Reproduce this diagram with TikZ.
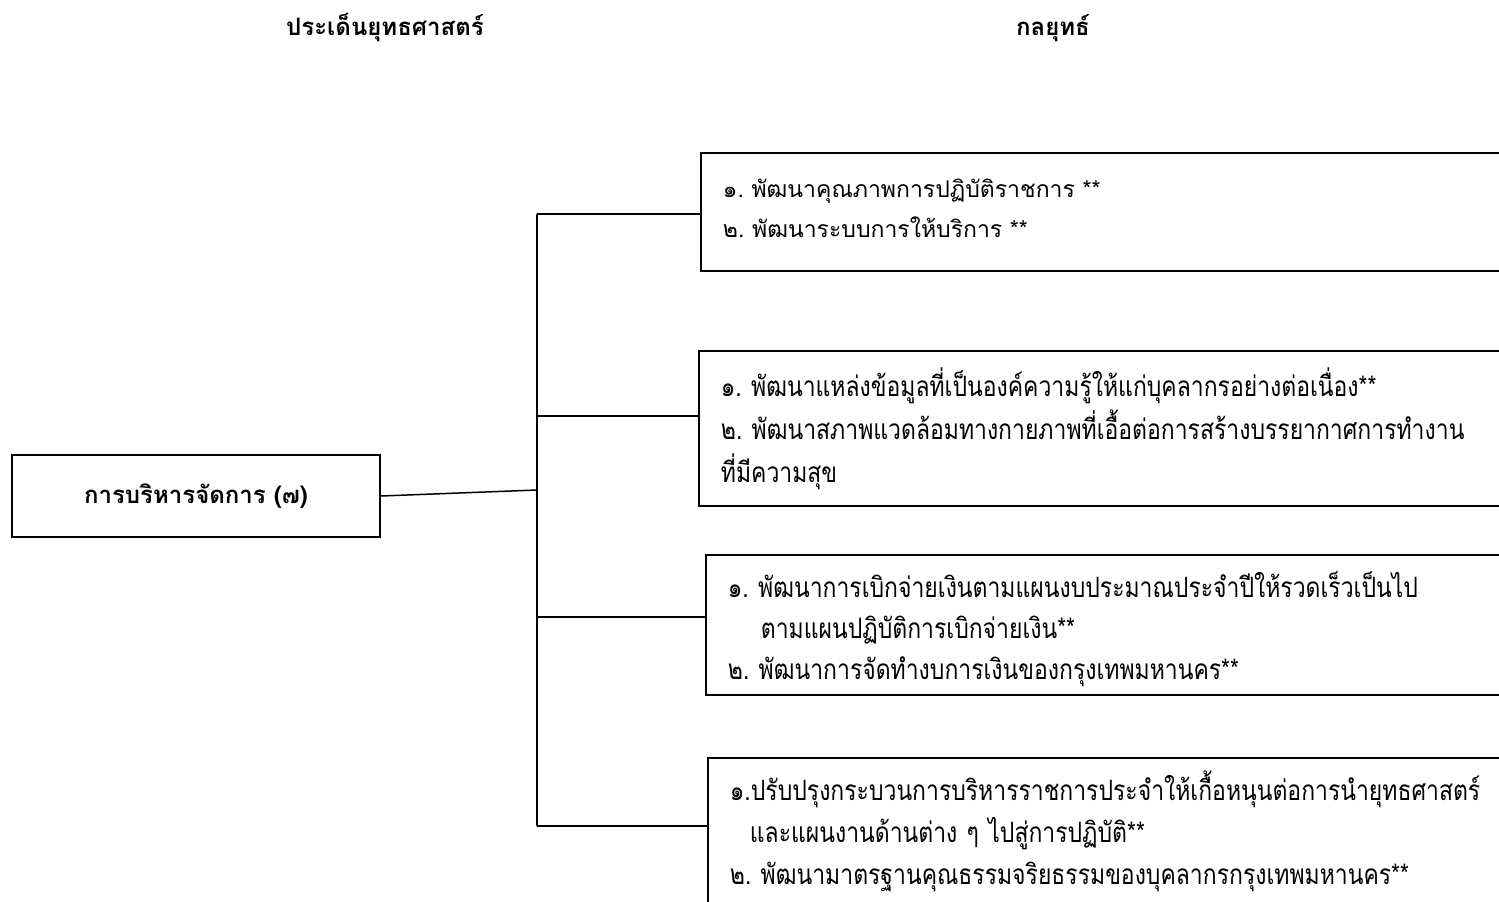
\documentclass[tikz,border=0pt]{standalone}
\usepackage{fontspec}
\usepackage{tikz}
\newfontfamily\thaifont[Script=Thai]{Loma}
\newfontfamily\thainarrow[Script=Thai,FakeStretch=0.82]{Loma}
\frenchspacing

\begin{document}
\begin{tikzpicture}[x=1pt,y=-1pt,
  heading/.style={font=\thaifont\bfseries\fontsize{24}{28}\selectfont},
  plan/.style={draw,line width=1.8pt,anchor=north west,align=left,text width=960pt,inner xsep=22pt,inner ysep=0pt},
  link/.style={line width=1.5pt}]
\useasboundingbox (0,0) rectangle (1499,902);
\clip (0,0) rectangle (1499,902);
\node[heading] (head1) at (385,28) {ประเด็นยุทธศาสตร์};
\node[heading] (head2) at (1053,28) {กลยุทธ์};
\node[draw,line width=1.8pt,minimum width=368pt,minimum height=82pt,font=\thaifont\bfseries\fontsize{24}{28}\selectfont] (mgmt) at (196,496) {การบริหารจัดการ (๗)};
\node[plan,minimum height=118pt,font=\thaifont\fontsize{23}{40}\selectfont] (s1) at (700,152)
  {๑. พัฒนาคุณภาพการปฏิบัติราชการ **\\ ๒. พัฒนาระบบการให้บริการ **\vspace*{8pt}};
\node[plan,minimum height=155pt,font=\thainarrow\fontsize{28}{43}\selectfont] (s2) at (698,350)
  {๑. พัฒนาแหล่งข้อมูลที่เป็นองค์ความรู้ให้แก่บุคลากรอย่างต่อเนื่อง**\\ ๒. พัฒนาสภาพแวดล้อมทางกายภาพที่เอื้อต่อการสร้างบรรยากาศการทำงาน\\ ที่มีความสุข};
\node[plan,minimum height=140pt,font=\thainarrow\fontsize{28}{41}\selectfont] (s3) at (705,554)
  {\rule{0pt}{35pt}๑. พัฒนาการเบิกจ่ายเงินตามแผนงบประมาณประจำปีให้รวดเร็วเป็นไป\\ \hspace*{33pt}ตามแผนปฏิบัติการเบิกจ่ายเงิน**\\ ๒. พัฒนาการจัดทำงบการเงินของกรุงเทพมหานคร**};
\node[plan,minimum height=146pt,font=\thainarrow\fontsize{28}{42}\selectfont] (s4) at (707,757)
  {๑.ปรับปรุงกระบวนการบริหารราชการประจำให้เกื้อหนุนต่อการนำยุทธศาสตร์\\ \hspace*{20pt}และแผนงานด้านต่าง ๆ ไปสู่การปฏิบัติ**\\ ๒. พัฒนามาตรฐานคุณธรรมจริยธรรมของบุคลากรกรุงเทพมหานคร**};
\coordinate (hub) at (537,490);
\coordinate (j1) at (537,214);
\coordinate (j2) at (537,416);
\coordinate (j3) at (537,617);
\coordinate (j4) at (537,826);
\draw[link] (mgmt.east) -- (hub);
\draw[link] (j1) -- (j4);
\draw[link] (j1) -- (j1 -| s1.west);
\draw[link] (j2) -- (j2 -| s2.west);
\draw[link] (j3) -- (j3 -| s3.west);
\draw[link] (j4) -- (j4 -| s4.west);
\end{tikzpicture}
\end{document}
